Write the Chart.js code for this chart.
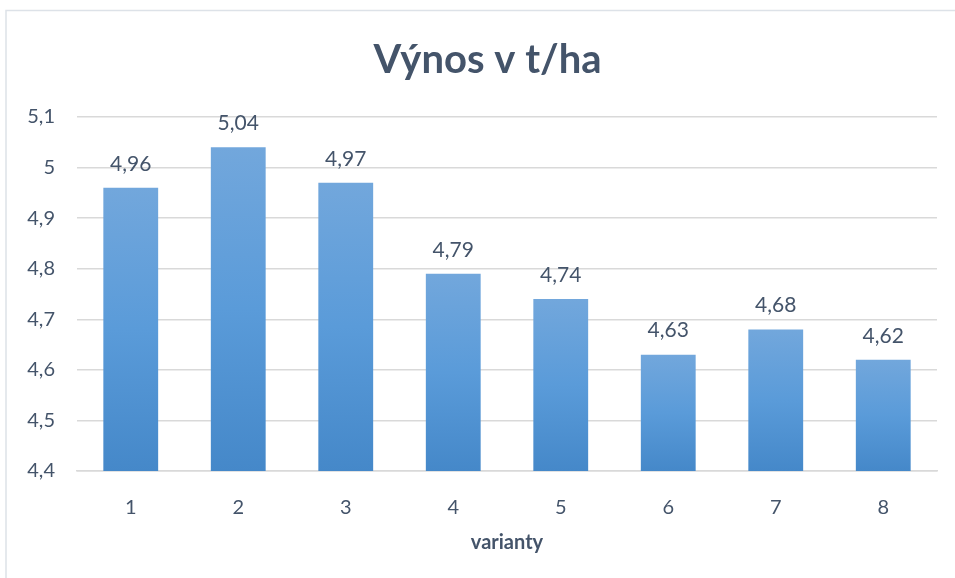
<!DOCTYPE html>
<html>
<head>
<meta charset="utf-8">
<script src="https://cdn.jsdelivr.net/npm/chart.js@4/dist/chart.umd.min.js"></script>
<style>
  html, body { margin: 0; padding: 0; background: #fff; }
  #wrap { width: 955px; height: 578px; }
</style>
</head>
<body>
<div id="wrap"><canvas id="myChart" width="955" height="578"></canvas></div>
<script>
// data
var varianty = ['1', '2', '3', '4', '5', '6', '7', '8'];
var vynos = [4.96, 5.04, 4.97, 4.79, 4.74, 4.63, 4.68, 4.62];
var yMin = 4.4;
var yMax = 5.1;
var yStep = 0.1;
var chartTitle = 'Výnos v t/ha';

var textColor = '#44546A';
var fontFamily = 'Lato, "Open Sans", sans-serif';

function comma(v, digits) {
    return v.toFixed(digits).replace('.', ',');
}

// per-bar vertical gradient like the Excel fill
function barFill(context) {
    var chart = context.chart;
    if (!chart.chartArea || context.type !== 'data') return '#5B9BD5';
    var y = chart.scales.y;
    var top = y.getPixelForValue(context.raw);
    var bottom = y.getPixelForValue(yMin);
    var g = chart.ctx.createLinearGradient(0, top, 0, bottom);
    g.addColorStop(0, '#72A7DC');
    g.addColorStop(0.5, '#5A9BD9');
    g.addColorStop(1, '#4588C9');
    return g;
}

// outer frame + title (title sits a bit right of canvas centre, like the excel one)
var frame = {
    id: 'frame',
    beforeDraw: function (chart) {
        var c = chart.ctx;
        c.save();
        c.strokeStyle = '#DDE2E8';
        c.lineWidth = 1.5;
        c.strokeRect(6, 10.5, 1200, 1200);
        c.fillStyle = textColor;
        c.font = 'bold 40px ' + fontFamily;
        c.textAlign = 'center';
        c.textBaseline = 'middle';
        c.fillText(chartTitle, chart.width / 2 + 10, 60);
        c.restore();
    }
};

var valueLabels = {
    id: 'valueLabels',
    afterDatasetsDraw: function (chart) {
        var c = chart.ctx;
        var meta = chart.getDatasetMeta(0);
        c.save();
        c.fillStyle = textColor;
        c.font = '21px ' + fontFamily;
        c.textAlign = 'center';
        c.textBaseline = 'middle';
        meta.data.forEach(function (bar, i) {
            c.fillText(comma(vynos[i], 2), bar.x, bar.y - 24);
        });
        c.restore();
    }
};

var ctx = document.getElementById('myChart').getContext('2d');

var myChart = new Chart(ctx, {
    type: 'bar',
    data: {
        labels: varianty,
        datasets: [{
            label: 'Výnos',
            data: vynos,
            backgroundColor: barFill,
            borderWidth: 0,
            categoryPercentage: 1,
            barPercentage: 0.51
        }]
    },
    options: {
        responsive: false,
        animation: false,
        layout: { padding: { left: 0, right: 18, top: 117, bottom: 0 } },
        plugins: {
            legend: { display: false },
            tooltip: { enabled: false },
            title: { display: false }
        },
        scales: {
            x: {
                grid: { display: false },
                border: { display: true, color: '#D9D9D9', width: 1.5 },
                ticks: {
                    color: textColor,
                    font: { family: fontFamily, size: 20 },
                    padding: 17
                },
                title: {
                    display: true,
                    text: 'varianty',
                    color: textColor,
                    font: { family: fontFamily, size: 20, weight: 'bold' },
                    padding: { top: 0, bottom: 23 }
                },
                afterFit: function (scale) { scale.height = 107; }
            },
            y: {
                min: yMin,
                max: yMax,
                border: { display: false },
                grid: { color: '#D9D9D9', lineWidth: 1.5, drawTicks: false },
                ticks: {
                    stepSize: yStep,
                    color: textColor,
                    font: { family: fontFamily, size: 20 },
                    padding: 22,
                    callback: function (v) {
                        var r = Math.round(v * 10) / 10;
                        return Number.isInteger(r) ? String(r) : comma(r, 1);
                    }
                },
                afterFit: function (scale) { scale.width = 77; }
            }
        }
    },
    plugins: [frame, valueLabels]
});
</script>
</body>
</html>
